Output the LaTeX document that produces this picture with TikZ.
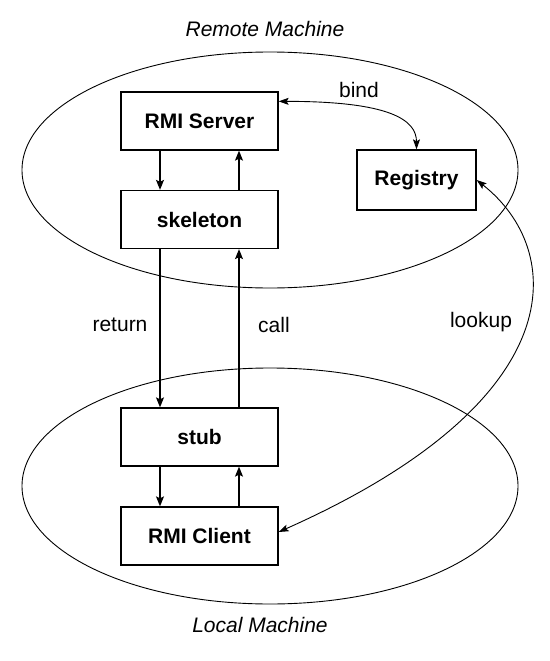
\documentclass[tikz,border=0pt]{standalone}
\usepackage{fontspec}
\setmainfont{Liberation Sans}
\usetikzlibrary{arrows.meta}
\begin{document}
\begin{tikzpicture}[x=1pt,y=-1pt,
  box/.style={draw, line width=1.3pt, minimum width=157pt, minimum height=58pt, inner sep=0pt,
    font=\fontsize{21}{24}\selectfont\bfseries},
  lbl/.style={font=\fontsize{21}{24}\selectfont},
  mach/.style={font=\fontsize{21}{24}\selectfont\itshape},
  arr/.style={line width=1.2pt, -{Stealth[length=10pt,width=8pt,inset=2pt]}},
  curv/.style={line width=0.9pt, {Stealth[length=10pt,width=7pt,inset=2pt]}-{Stealth[length=10pt,width=7pt,inset=2pt]}},
  ell/.style={line width=0.9pt}]
\useasboundingbox (0,0) rectangle (549,661);
% machines
\draw[ell] (270,170) ellipse [x radius=248, y radius=118];
\draw[ell] (270,486) ellipse [x radius=248, y radius=118];
\node[mach] (remote) at (265,29) {Remote Machine};
\node[mach] (local) at (260,625) {Local Machine};
% boxes
\node[box] (server) at (199.5,121) {RMI Server};
\node[box] (skel) at (199.5,219.5) {skeleton};
\node[box, minimum width=119pt, minimum height=60pt] (reg) at (416.5,180) {Registry};
\node[box] (stub) at (199.5,437) {stub};
\node[box] (client) at (199.5,536) {RMI Client};
% vertical arrows
\draw[arr] ([xshift=-39.5pt]server.south) -- ([xshift=-39.5pt]skel.north);
\draw[arr] ([xshift=39.5pt]skel.north) -- ([xshift=39.5pt]server.south);
\draw[arr] ([xshift=-39.5pt]skel.south) -- ([xshift=-39.5pt]stub.north);
\draw[arr] ([xshift=39.5pt]stub.north) -- ([xshift=39.5pt]skel.south);
\draw[arr] ([xshift=-39.5pt]stub.south) -- ([xshift=-39.5pt]client.north);
\draw[arr] ([xshift=39.5pt]client.north) -- ([xshift=39.5pt]stub.south);
% curved arrows
\draw[curv] ([yshift=-10pt]server.north east) .. controls +(110,0) and +(0,-30) .. (reg.north);
\draw[curv] (reg.east) .. controls +(89,70) and +(297,-132) .. ([yshift=4pt]client.east);
% labels
\node[lbl] (lbind) at (359,90) {bind};
\node[lbl] (lret) at (120,325) {return};
\node[lbl] (lcall) at (274,325) {call};
\node[lbl] (llook) at (481,322) {lookup};
\end{tikzpicture}
\end{document}
